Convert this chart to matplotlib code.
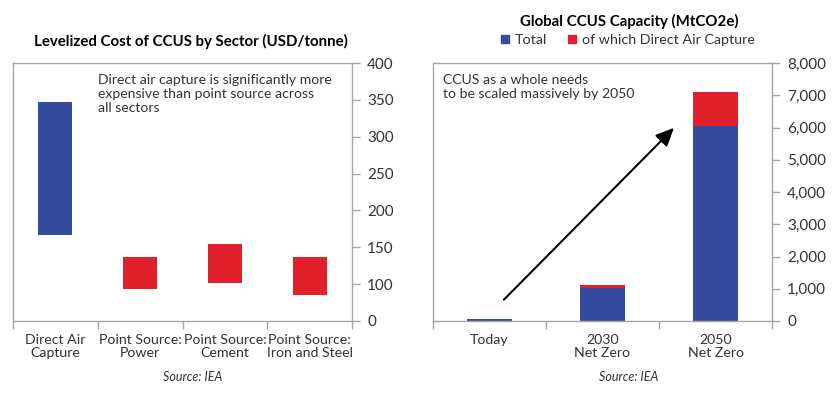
import matplotlib
matplotlib.use("Agg")
import matplotlib.pyplot as plt
from matplotlib.lines import Line2D
from matplotlib.ticker import FuncFormatter, FixedLocator
import numpy as np

plt.rcParams['font.family'] = ['Lato', 'DejaVu Sans']

# ---- data: left chart (floating ranges) ----
sectors = ["Direct Air\nCapture", "Point Source:\nPower", "Point Source:\nCement", "Point Source:\nIron and Steel"]
cost_low = [166, 93, 101, 85]
cost_high = [347, 137, 155, 137]
cost_colors = ["#354B9E", "#E0212B", "#E0212B", "#E0212B"]
cost_ticks = [50, 100, 150, 200, 250, 300, 350, 400]
cost_tick_labels = ["0", "100", "150", "200", "250", "300", "350", "400"]

# ---- data: right chart (stacked) ----
scenarios = ["Today", "2030\nNet Zero", "2050\nNet Zero"]
total_capacity = [60, 1115, 7090]
dac_capacity = [0, 80, 1035]
cap_ticks = [0, 1000, 2000, 3000, 4000, 5000, 6000, 7000, 8000]

arrow_start = (0.11, 600)
arrow_end = (1.65, 6050)

BLUE = "#354B9E"
RED = "#E0212B"
GRAY = "#a6a6a6"
TXT = "#333333"

fig = plt.figure(figsize=(8.4, 3.94), dpi=100)
ax1 = fig.add_axes([13/840, 1-321/394, 339/840, 258/394])
ax2 = fig.add_axes([433/840, 1-321/394, 339/840, 258/394])

def style(ax, ncat):
    for s in ["left", "top", "right", "bottom"]:
        ax.spines[s].set_color(GRAY)
        ax.spines[s].set_linewidth(1.0)
    ax.yaxis.tick_right()
    ax.tick_params(axis="y", which="major", direction="out", length=6, width=1,
                   color=GRAY, labelcolor=TXT, labelsize=11, pad=5)
    ax.set_xlim(-0.5, ncat - 0.5)
    ax.set_xticks(range(ncat))
    ax.xaxis.set_minor_locator(FixedLocator(np.arange(-0.5, ncat, 1.0)))
    ax.tick_params(axis="x", which="major", length=0, labelcolor=TXT, labelsize=10.2, pad=9)
    ax.tick_params(axis="x", which="minor", direction="out", length=6, width=1, color=GRAY)

# left chart
x1 = np.arange(len(sectors))
heights = [h - l for h, l in zip(cost_high, cost_low)]
ax1.bar(x1, heights, bottom=cost_low, width=0.4, color=cost_colors)
style(ax1, len(sectors))
ax1.set_ylim(50, 400)
ax1.set_yticks(cost_ticks)
ax1.set_yticklabels(cost_tick_labels)
ax1.set_xticklabels(sectors, linespacing=1.15)
ax1.text(0.25, 0.958, "Direct air capture is significantly more\nexpensive than point source across\nall sectors",
         transform=ax1.transAxes, ha="left", va="top", fontsize=10.1, color=TXT, linespacing=1.22)

# right chart
x2 = np.arange(len(scenarios))
blue_part = [t - d for t, d in zip(total_capacity, dac_capacity)]
ax2.bar(x2, blue_part, width=0.4, color=BLUE)
ax2.bar(x2, dac_capacity, bottom=blue_part, width=0.4, color=RED)
style(ax2, len(scenarios))
ax2.set_ylim(0, 8000)
ax2.set_yticks(cap_ticks)
ax2.yaxis.set_major_formatter(FuncFormatter(lambda v, p: f"{v:,.0f}"))
ax2.set_xticklabels(scenarios, linespacing=1.15)
ax2.text(0.03, 0.958, "CCUS as a whole needs\nto be scaled massively by 2050",
         transform=ax2.transAxes, ha="left", va="top", fontsize=10.1, color=TXT, linespacing=1.22)
ax2.annotate("", xy=arrow_end, xytext=arrow_start,
             arrowprops=dict(arrowstyle="-|>,head_length=1.1,head_width=0.5", color="black", lw=1.5))

# titles
fig.text(191/840, 1-41/394, "Levelized Cost of CCUS by Sector (USD/tonne)", ha="center", va="center",
         fontsize=10.8, fontweight="bold", color="black")
fig.text(629/840, 1-21/394, "Global CCUS Capacity (MtCO2e)", ha="center", va="center",
         fontsize=10.8, fontweight="bold", color="black")

handles = [Line2D([], [], marker="s", linestyle="", color=BLUE, markersize=5.5),
           Line2D([], [], marker="s", linestyle="", color=RED, markersize=5.5)]
fig.legend(handles, ["Total", "of which Direct Air Capture"], loc="center", bbox_to_anchor=(627/840, 1-40/394),
           ncol=2, frameon=False, fontsize=10.3, handletextpad=0.3, columnspacing=1.3,
           handlelength=0.8, labelcolor=TXT, borderaxespad=0, borderpad=0)

# sources
fig.text(193/840, 1-377/394, "Source: IEA", ha="center", va="center", fontsize=9, style="italic", color=TXT)
fig.text(629/840, 1-377/394, "Source: IEA", ha="center", va="center", fontsize=9, style="italic", color=TXT)

fig.savefig("out.png", dpi=100)
